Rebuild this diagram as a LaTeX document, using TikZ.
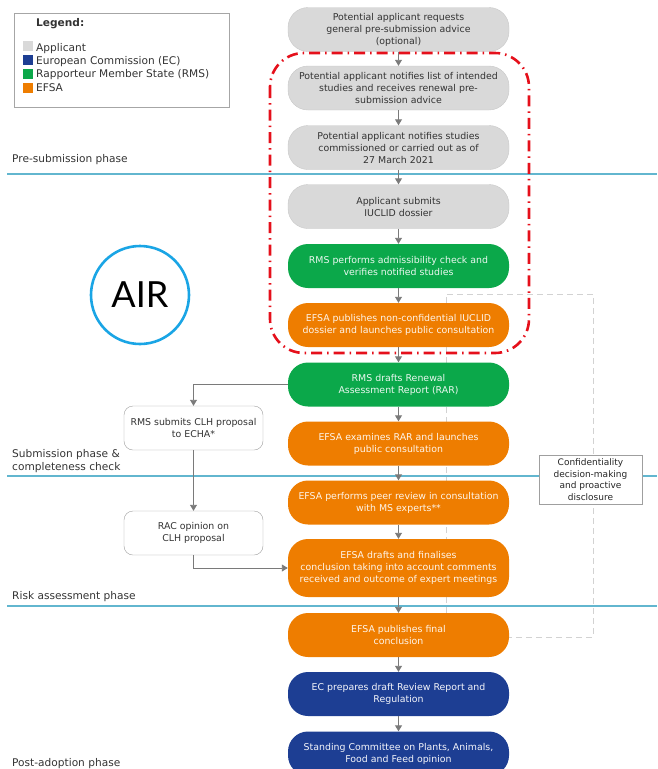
\documentclass[tikz,border=0pt]{standalone}
\usepackage{fontspec}
\setmainfont{DejaVu Sans}
\newfontfamily\airfont{Lato}
\usetikzlibrary{arrows.meta}

\definecolor{appgray}{HTML}{D9D9D9}
\definecolor{ecblue}{HTML}{1D3E93}
\definecolor{rmsgreen}{HTML}{0BA84A}
\definecolor{efsaorange}{HTML}{EE7D00}
\definecolor{phaseline}{HTML}{62B6CF}
\definecolor{airred}{HTML}{E5101B}
\definecolor{aircyan}{HTML}{1AA5E5}
\definecolor{txtgray}{HTML}{333333}
\definecolor{arrgray}{HTML}{7A7A7A}

\begin{document}
\begin{tikzpicture}[x=1pt, y=-1pt,
  stage/.style={minimum width=221pt, minimum height=44pt, rounded corners=20pt, align=center, inner sep=2pt, font=\fontsize{9.4}{12}\selectfont},
  applicant/.style={stage, fill=appgray, draw=appgray!92!black, text=txtgray},
  rms/.style={stage, fill=rmsgreen, text=white!92!rmsgreen},
  efsa/.style={stage, fill=efsaorange, text=white!92!efsaorange},
  ec/.style={stage, fill=ecblue, text=white!95!ecblue},
  sidebox/.style={draw=gray!75, fill=white, rounded corners=9pt, minimum width=139pt, minimum height=44pt, align=center, inner sep=2pt, text=txtgray, font=\fontsize{9.4}{12}\selectfont},
  flow/.style={draw=arrgray, line width=0.9pt, -{Triangle[width=7pt,length=6pt]}},
  phase/.style={anchor=west, inner sep=0pt, align=left, text=txtgray, font=\fontsize{10.6}{13}\selectfont},
  swatch/.style={minimum size=10pt, inner sep=0pt},
]

\useasboundingbox (0,0) rectangle (657,769);

% phase separators
\draw[phaseline, line width=1.3pt] (7,174) -- (657,174);
\draw[phaseline, line width=1.3pt] (7,476) -- (657,476);
\draw[phaseline, line width=1.3pt] (7,606) -- (657,606);

\node[phase] (pre) at (12,160) {Pre-submission phase};
\node[phase] (sub) at (12,461.5) {Submission phase \&\\completeness check};
\node[phase] (risk) at (12,597) {Risk assessment phase};
\node[phase] (post) at (12,764) {Post-adoption phase};

% legend
\draw[gray!70, line width=0.8pt] (14,13) rectangle (229,107);
\node[phase, font=\bfseries\fontsize{10.6}{13}\selectfont] (leg) at (36,24) {Legend:};
\node[swatch, fill=appgray] (sapp) at (28,46) {};
\node[swatch, fill=ecblue] (sec) at (28,60) {};
\node[swatch, fill=rmsgreen] (srms) at (28,74) {};
\node[swatch, fill=efsaorange] (sefsa) at (28,88) {};
\node[phase] (lapp) at (36,49) {Applicant};
\node[phase] (lec) at (36,62) {European Commission (EC)};
\node[phase] (lrms) at (36,75) {Rapporteur Member State (RMS)};
\node[phase] (lefsa) at (36,88) {EFSA};

% confidentiality loop (behind the boxes)
\coordinate (ctl) at (446,294);
\coordinate (ctr) at (593,294);
\draw[gray!35, line width=1pt, dash pattern=on 6pt off 4pt] (ctl |- 0,613) -- (ctl) -- (ctr) -- (593,637) -- (508,637);

% main column
\node[applicant] (req) at (398.5,29.5) {Potential applicant requests\\general pre-submission advice\\(optional)};
\node[applicant] (notlist) at (398.5,88) {Potential applicant notifies list of intended\\studies and receives renewal pre-\\submission advice};
\node[applicant] (notstud) at (398.5,147.5) {Potential applicant notifies studies\\commissioned or carried out as of\\27 March 2021};
\node[applicant] (iuclid) at (398.5,206.5) {Applicant submits\\IUCLID dossier};
\node[rms] (admis) at (398.5,266) {RMS performs admissibility check and\\verifies notified studies};
\node[efsa] (publ) at (398.5,325) {EFSA publishes non-confidential IUCLID\\dossier and launches public consultation};
\node[rms] (rar) at (398.5,384.5) {RMS drafts Renewal\\Assessment Report (RAR)};
\node[efsa] (exam) at (398.5,443.5) {EFSA examines RAR and launches\\public consultation};
\node[efsa] (peer) at (398.5,502.5) {EFSA performs peer review in consultation\\with MS experts**};
\node[efsa, minimum height=58pt] (concl) at (398.5,568) {EFSA drafts and finalises\\conclusion taking into account comments\\received and outcome of expert meetings};
\node[efsa] (final) at (398.5,635) {EFSA publishes final\\conclusion};
\node[ec] (draft) at (398.5,694) {EC prepares draft Review Report and\\Regulation};
\node[ec] (scopaff) at (398.5,753.5) {Standing Committee on Plants, Animals,\\Food and Feed opinion};

\draw[flow] (req) -- (notlist);
\draw[flow] (notlist) -- (notstud);
\draw[flow] (notstud) -- (iuclid);
\draw[flow] (iuclid) -- (admis);
\draw[flow] (admis) -- (publ);
\draw[flow] (publ) -- (rar);
\draw[flow] (rar) -- (exam);
\draw[flow] (exam) -- (peer);
\draw[flow] (peer) -- (concl);
\draw[flow] (concl) -- (final);
\draw[flow] (final) -- (draft);
\draw[flow] (draft) -- (scopaff);

% CLH branch
\node[sidebox] (clh) at (193.5,428) {RMS submits CLH proposal\\to ECHA*};
\node[sidebox] (rac) at (193.5,533) {RAC opinion on\\CLH proposal};
\draw[flow] (rar.west) -| (clh.north);
\draw[flow] (clh) -- (rac);
\draw[flow] (rac.south) |- (concl.west);

\node[draw=gray!75, fill=white, minimum width=103pt, minimum height=49pt, inner sep=1pt, align=center, text=black!85, font=\fontsize{9}{11.5}\selectfont] (conf) at (590.5,479.5) {Confidentiality\\decision-making\\and proactive\\disclosure};

% AIR scope
\node[circle, draw=aircyan, line width=2.6pt, minimum size=98pt, inner sep=0pt, font=\airfont\fontsize{36}{36}\selectfont] (air) at (140,295) {AIR};
\draw[airred, line width=2.6pt, dash pattern=on 11pt off 5pt on 1.5pt off 5pt, rounded corners=34pt] (270,53) rectangle (529,353);

\end{tikzpicture}
\end{document}
